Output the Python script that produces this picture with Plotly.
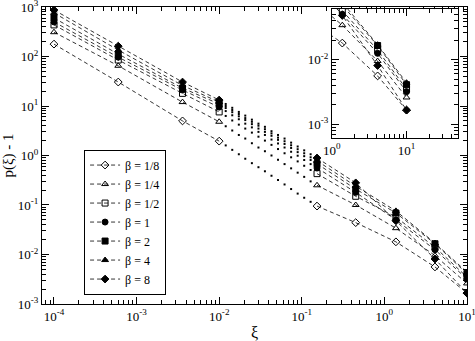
import plotly.graph_objects as pgo

# ---- data ----
xi = [1e-4, 6e-4, 3.6e-3, 1e-2, None, 0.153, 0.45, 1.38, 4.1, 10]

p_eighth  = [178, 30.5, 5.0, 1.95, None, 0.095, 0.044, 0.018, 0.0056, 0.00166]
p_quarter = [310, 65, 12, 4.8, None, 0.25, 0.10, 0.034, 0.0095, 0.0026]
p_half    = [435, 85, 18, 7.6, None, 0.43, 0.15, 0.057, 0.014, 0.0035]
p_one     = [500, 97, 21, 9.5, None, 0.56, 0.18, 0.050, 0.0125, 0.0032]
p_two     = [600, 112, 23, 11, None, 0.68, 0.21, 0.069, 0.0165, 0.0041]
p_four    = [760, 135, 26, 12, None, 0.78, 0.24, 0.076, 0.017, 0.0044]
p_eight   = [870, 162, 30.5, 13.2, None, 0.89, 0.28, 0.048, 0.0081, 0.00166]

# small dots between 1e-2 and 0.15
xi_dots = [0.012, 0.0144, 0.0173, 0.0207, 0.0249, 0.0299, 0.0358,
           0.043, 0.0516, 0.0619, 0.0743, 0.0892, 0.107, 0.128]
d_eighth  = [1.6, 1.3, 1.06, 0.86, 0.70, 0.58, 0.48, 0.39, 0.32, 0.26, 0.21, 0.17, 0.14, 0.116]
d_quarter = [3.9, 3.2, 2.6, 2.2, 1.77, 1.45, 1.22, 1.0, 0.82, 0.67, 0.55, 0.45, 0.37, 0.30]
d_half    = [6.3, 5.1, 4.2, 3.5, 2.9, 2.4, 2.0, 1.64, 1.35, 1.11, 0.92, 0.76, 0.62, 0.51]
d_one     = [7.9, 6.5, 5.4, 4.4, 3.7, 3.0, 2.6, 2.1, 1.75, 1.45, 1.19, 0.99, 0.81, 0.67]
d_two     = [9.1, 7.5, 6.2, 5.2, 4.3, 3.5, 3.0, 2.5, 2.07, 1.71, 1.42, 1.17, 0.97, 0.81]
d_four    = [10, 8.3, 6.9, 5.7, 4.8, 4.0, 3.4, 2.8, 2.3, 1.94, 1.61, 1.34, 1.11, 0.92]
d_eight   = [11, 9.2, 7.6, 6.4, 5.3, 4.4, 3.8, 3.1, 2.6, 2.2, 1.82, 1.52, 1.27, 1.06]

labels = ["β = 1/8", "β = 1/4", "β = 1/2", "β = 1", "β = 2", "β = 4", "β = 8"]
series = [p_eighth, p_quarter, p_half, p_one, p_two, p_four, p_eight]
dots = [d_eighth, d_quarter, d_half, d_one, d_two, d_four, d_eight]
symbols = ["diamond-open", "triangle-up-open", "square-open", "circle",
           "square", "triangle-up", "diamond"]

# tick labels
x_ticks = [1e-4, 1e-3, 1e-2, 1e-1, 1, 10]
x_ticktext = ["10<sup>-4</sup>", "10<sup>-3</sup>", "10<sup>-2</sup>",
              "10<sup>-1</sup>", "10<sup>0</sup>", "10<sup>1</sup>"]
y_ticks = [1e-3, 1e-2, 1e-1, 1, 10, 100, 1000]
y_ticktext = ["10<sup>-3</sup>", "10<sup>-2</sup>", "10<sup>-1</sup>",
              "10<sup>0</sup>", "10<sup>1</sup>", "10<sup>2</sup>", "10<sup>3</sup>"]

FONT = "Liberation Serif"
fig = pgo.Figure()

for i in range(len(series)):
    # main plot
    fig.add_trace(pgo.Scatter(
        x=xi, y=series[i], mode="lines+markers", name=labels[i],
        line=dict(color="black", width=0.8, dash="4px,3px"),
        marker=dict(symbol=symbols[i], size=6, color="black",
                    line=dict(color="black", width=1)),
        connectgaps=False, xaxis="x", yaxis="y"))
    fig.add_trace(pgo.Scatter(
        x=xi_dots, y=dots[i], mode="markers", showlegend=False,
        marker=dict(symbol="square", size=2, color="black"),
        xaxis="x", yaxis="y"))
    # inset
    fig.add_trace(pgo.Scatter(
        x=xi, y=series[i], mode="lines+markers", showlegend=False,
        line=dict(color="black", width=0.8, dash="4px,3px"),
        marker=dict(symbol=symbols[i], size=6, color="black",
                    line=dict(color="black", width=1)),
        connectgaps=False, xaxis="x2", yaxis="y2"))

ax_common = dict(type="log", showgrid=False, zeroline=False, automargin=False,
                 showline=True, linecolor="black", linewidth=1, mirror="allticks",
                 ticks="inside", ticklen=7, tickcolor="black", tickwidth=1,
                 tickmode="array", ticklabeloverflow="allow",
                 tickfont=dict(family=FONT, size=13, color="black"),
                 minor=dict(ticks="inside", ticklen=4, tickcolor="black",
                            dtick="D1", showgrid=False))

fig.update_layout(
    template="none",
    width=475, height=341,
    margin=dict(l=42, r=8, t=7, b=37),
    paper_bgcolor="white", plot_bgcolor="white",
    font=dict(family=FONT, size=13, color="black"),
    xaxis=dict(ax_common, range=[-4.145, 1.0005], domain=[0, 1],
               tickvals=x_ticks, ticktext=x_ticktext,
               title=dict(text="ξ", font=dict(family=FONT, size=16))),
    yaxis=dict(ax_common, range=[-3.0005, 3.0005], domain=[0, 1],
               tickvals=y_ticks, ticktext=y_ticktext,
               title=dict(text="p(ξ) - 1", font=dict(family=FONT, size=15))),
    xaxis2=dict(ax_common, range=[0, 1.69], domain=[0.682, 0.979], anchor="y2",
                tickvals=x_ticks, ticktext=x_ticktext),
    yaxis2=dict(ax_common, range=[-3.21, -1.22], domain=[0.559, 0.993], anchor="x2",
                tickvals=y_ticks, ticktext=y_ticktext),
    legend=dict(x=0.099, y=0.52, xanchor="left", yanchor="top",
                bgcolor="white", bordercolor="black", borderwidth=1,
                font=dict(family=FONT, size=12), tracegroupgap=0,
                itemwidth=30),
    shapes=[dict(type="rect", xref="x2 domain", yref="y2 domain",
                 x0=0, x1=1, y0=0, y1=1, fillcolor="white",
                 line=dict(width=0), layer="below")],
    showlegend=True,
)

# page body has a default 8px margin; remove it so the figure sits at 0,0
fig.write_html("out.html", config={"displayModeBar": False},
               post_script="document.body.style.margin='0px';")
